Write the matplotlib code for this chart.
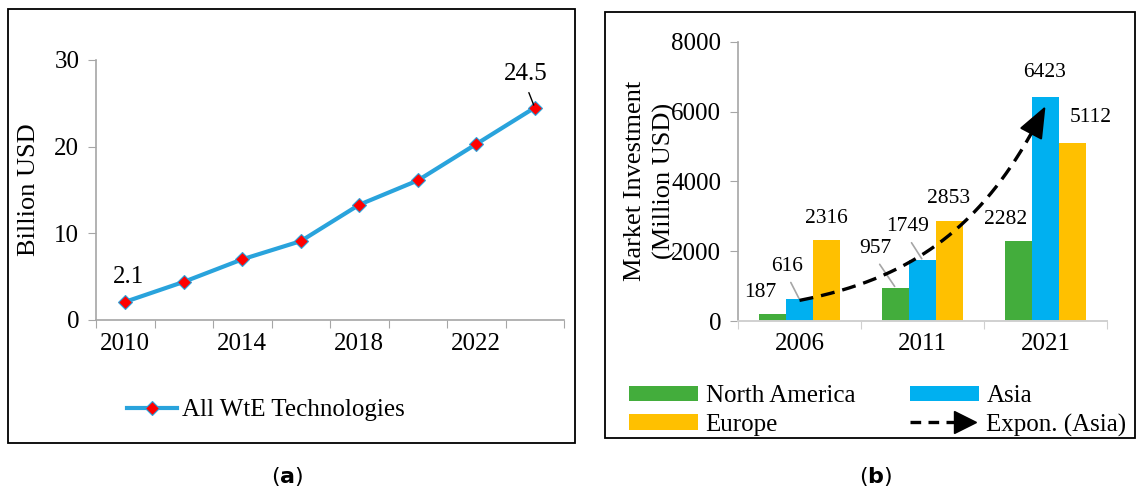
import numpy as np
import matplotlib
matplotlib.use("Agg")
import matplotlib.pyplot as plt
from matplotlib.patches import Rectangle
from matplotlib.lines import Line2D
from matplotlib.legend_handler import HandlerBase

plt.rcParams['font.family'] = ['Liberation Serif', 'DejaVu Serif']

# (a) global WtE market, billion USD
anos = [2010, 2012, 2014, 2016, 2018, 2020, 2022, 2024]
valores = [2.1, 4.4, 7.0, 9.1, 13.3, 16.1, 20.3, 24.5]

# (b) market investment by region, million USD
anos_b = ['2006', '2011', '2021']
america_norte = [187, 957, 2282]
asia = [616, 1749, 6423]
europa = [2316, 2853, 5112]

cinza = '#a6a6a6'
azul_linha = '#29a3dc'
verde, azul, amarelo = '#43ad3c', '#00b0f0', '#ffc000'

W, H = 1137, 495
fig = plt.figure(figsize=(W / 100, H / 100), dpi=100)


def caixa(x0, y0, x1, y1):
    # retangulo em pixels (origem no topo)
    fig.patches.append(Rectangle((x0 / W, 1 - y1 / H), (x1 - x0) / W, (y1 - y0) / H,
                                 transform=fig.transFigure, fill=False,
                                 edgecolor='black', lw=1.3))


def eixo(x0, y0, x1, y1):
    return fig.add_axes([x0 / W, 1 - y1 / H, (x1 - x0) / W, (y1 - y0) / H])


caixa(8, 9, 575, 443)
caixa(605, 12, 1135, 438)

# ---------------- (a) ----------------
ax = eixo(96, 60, 564, 320)
x = np.arange(len(anos))
ax.plot(x, valores, color=azul_linha, lw=3, marker='D', markersize=7.5,
        markerfacecolor='red', markeredgecolor=azul_linha, markeredgewidth=0.8,
        label='All WtE Technologies', zorder=3)
ax.set_xlim(-0.5, len(anos) - 0.5)
ax.set_ylim(0, 30)
ax.set_yticks([0, 10, 20, 30])
ax.set_xticks(np.arange(-0.5, len(anos)))
ax.set_xticklabels([])
ax.set_xticks(x[::2], [str(a) for a in anos[::2]], minor=True)
ax.tick_params(axis='x', which='major', length=6, color=cinza, direction='out')
ax.tick_params(axis='x', which='minor', length=0, pad=9, labelsize=18)
ax.tick_params(axis='y', length=6, color=cinza, labelsize=18, pad=6)
for s in ['top', 'right']:
    ax.spines[s].set_visible(False)
for s in ['left', 'bottom']:
    ax.spines[s].set_color(cinza)
    ax.spines[s].set_linewidth(1.2)
ax.set_ylabel('Billion USD', fontsize=19, labelpad=10)

ax.annotate(f'{valores[0]}', (x[0], valores[0]), xytext=(3, 25),
            textcoords='offset pixels', ha='center', va='center', fontsize=18)
ax.annotate(f'{valores[-1]}', (x[-1], valores[-1]), xytext=(-9, 34),
            textcoords='offset pixels', ha='center', va='center', fontsize=18,
            arrowprops=dict(arrowstyle='-', color='black', lw=1,
                            relpos=(0.5, 0), shrinkA=4, shrinkB=2))

ax.legend(loc='center', bbox_to_anchor=(266 / W, 1 - 410 / H),
          bbox_transform=fig.transFigure, frameon=False, fontsize=18,
          handlelength=2.0, handletextpad=0.2)

# ---------------- (b) ----------------
bx = eixo(738, 41.7, 1107, 321)
xb = np.arange(len(anos_b))
lb = 0.22
series = [(america_norte, verde, 'North America', -lb),
          (asia, azul, 'Asia', 0),
          (europa, amarelo, 'Europe', lb)]
barras = []
for vals, cor, nome, dx in series:
    barras.append(bx.bar(xb + dx, vals, lb, color=cor, label=nome, zorder=2))

# deslocamento dos rotulos (pixels) e se tem linha guia
desloc = {
    ('North America', 0): (-12, 22, False), ('Asia', 0): (-12, 33, True),
    ('Europe', 0): (0, 22, False),
    ('North America', 1): (-20, 39, True), ('Asia', 1): (-15, 33, True),
    ('Europe', 1): (-1, 23, False),
    ('North America', 2): (-13, 22, False), ('Asia', 2): (-1, 24, False),
    ('Europe', 2): (18, 25, False),
}
for vals, cor, nome, dx in series:
    for i, v in enumerate(vals):
        ox, oy, guia = desloc[(nome, i)]
        props = None
        if guia:
            props = dict(arrowstyle='-', color=cinza, lw=1.2, relpos=(0.5, 0),
                         shrinkA=3, shrinkB=1)
        bx.annotate(str(v), (xb[i] + dx, v), xytext=(ox, oy),
                    textcoords='offset pixels', ha='center', va='center',
                    fontsize=15.5, arrowprops=props, zorder=4)

# tendencia exponencial da Asia
coef = np.polyfit(xb, np.log(asia), 1)
xt = np.linspace(xb[0], xb[-1], 200)
yt = np.exp(np.polyval(coef, xt))
bx.plot(xt[:-10], yt[:-10], color='black', lw=2.4, dashes=(4.2, 2.4), zorder=5)
bx.annotate('', xy=(xt[-1], yt[-1]), xytext=(xt[-14], yt[-14]),
            arrowprops=dict(arrowstyle='-|>,head_length=1.0,head_width=0.4',
                            color='black', lw=1.5, mutation_scale=20,
                            shrinkA=0, shrinkB=0), zorder=6)

bx.set_xlim(-0.5, len(anos_b) - 0.5)
bx.set_ylim(0, 8000)
bx.set_yticks(np.arange(0, 8001, 2000))
bx.set_xticks(np.arange(-0.5, len(anos_b)))
bx.set_xticklabels([])
bx.set_xticks(xb, anos_b, minor=True)
bx.tick_params(axis='x', which='major', length=6, color='#d0d0d0', direction='out')
bx.tick_params(axis='x', which='minor', length=0, pad=9, labelsize=18)
bx.tick_params(axis='y', length=6, color=cinza, labelsize=18, pad=6)
for s in ['top', 'right']:
    bx.spines[s].set_visible(False)
bx.spines['left'].set_color(cinza)
bx.spines['bottom'].set_color('#d0d0d0')
bx.spines['left'].set_linewidth(1.2)
bx.spines['bottom'].set_linewidth(1.4)
bx.set_ylabel('Market Investment\n(Million USD)', fontsize=19, labelpad=-3,
              linespacing=1.35)


class HandlerSeta(HandlerBase):
    # linha tracejada com ponta de seta para a legenda
    def create_artists(self, legend, orig_handle, xdescent, ydescent,
                       width, height, fontsize, trans):
        y = height / 2 - ydescent
        linha = Line2D([-xdescent, width - xdescent - fontsize * 0.9], [y, y],
                       color='black', lw=2.4, dashes=(3.2, 2.2), transform=trans)
        ponta = Line2D([width - xdescent - fontsize * 0.55], [y], marker='>',
                       markersize=fontsize * 0.85, color='black', lw=0,
                       transform=trans)
        return [linha, ponta]


seta = Line2D([], [], color='black')
bx.legend([barras[0], barras[2], barras[1], seta],
          ['North America', 'Europe', 'Asia', 'Expon. (Asia)'],
          loc='center', bbox_to_anchor=(878 / W, 1 - 411 / H),
          bbox_transform=fig.transFigure, frameon=False, fontsize=18, ncol=2,
          handlelength=2.75, handleheight=0.6, handletextpad=0.3,
          columnspacing=2.2, labelspacing=0.25,
          handler_map={Line2D: HandlerSeta()})

# legendas (a) e (b)
for xc, letra in [(287, 'a'), (876, 'b')]:
    fig.text(xc / W, 1 - 477 / H, r'($\mathbf{' + letra + r'}$)', ha='center',
             va='center', fontsize=16, family='DejaVu Sans')

fig.savefig('out.png', dpi=100)
